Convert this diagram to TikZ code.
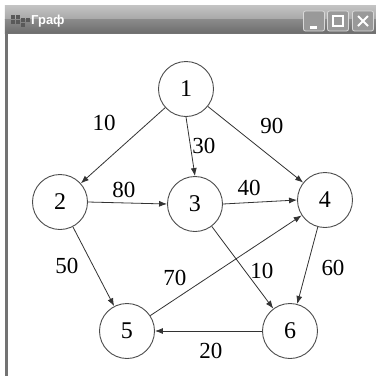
\documentclass[tikz,border=0pt]{standalone}
\usepackage{fontspec}
\setmainfont{Liberation Serif}
\newfontfamily\uifont{Liberation Sans}
\usetikzlibrary{arrows.meta}
\definecolor{barlight}{HTML}{C4C4C4}
\definecolor{barmid}{HTML}{A8A8A8}
\definecolor{bardark}{HTML}{6E6E6E}
\definecolor{edgecol}{HTML}{333333}
\tikzset{
  vertex/.style={circle, draw=black!70, line width=0.9pt, fill=white,
    minimum size=55pt, inner sep=0pt, font=\fontsize{24}{24}\selectfont},
  arc/.style={draw=edgecol, line width=0.8pt,
    -{Latex[length=8pt,width=6pt]}},
  wlabel/.style={font=\fontsize{23}{23}\selectfont, inner sep=0pt},
  winbtn/.style={draw=white!85!black, line width=0.8pt, fill=black!40,
    rounded corners=2pt, minimum width=21pt, minimum height=20pt, inner sep=0pt}
}
\begin{document}
\begin{tikzpicture}[x=1pt,y=-1pt]
  \useasboundingbox (0,0) rectangle (376,376);
  \fill[white] (0,0) rectangle (376,376);
  % window title bar
  \shade[top color=barlight, bottom color=barmid] (5,5) rectangle (376,19);
  \shade[top color=bardark!80, bottom color=bardark] (5,19) rectangle (376,33);
  \draw[black!55, line width=0.8pt] (5,33) -- (376,33);
  % left window frame
  \fill[black!55] (5,33) rectangle (8,376);
  % window icon
  \foreach \ix/\iy in {11/15, 16/15, 11/20, 16/20, 21/18, 21/23, 26/18}
    \fill[black!65] (\ix,\iy) rectangle ++(4,4);
  \node[anchor=west, text=white, inner sep=0pt,
        font=\uifont\fontsize{13}{13}\selectfont\bfseries] (title) at (31,21) {Граф};
  % caption buttons
  \node[winbtn] (bmin) at (314,21) {};
  \node[winbtn] (bmax) at (338,21) {};
  \node[winbtn] (bclose) at (363,21) {};
  \fill[white] ([xshift=-4pt,yshift=-5pt]bmin.center) rectangle ([xshift=3pt,yshift=-8pt]bmin.center);
  \draw[white, line width=2pt] ([xshift=-5pt,yshift=-5pt]bmax.center) rectangle ([xshift=5pt,yshift=5pt]bmax.center);
  \draw[white, line width=2pt] ([xshift=-5pt,yshift=-5pt]bclose.center) -- ([xshift=5pt,yshift=5pt]bclose.center)
                              ([xshift=-5pt,yshift=5pt]bclose.center) -- ([xshift=5pt,yshift=-5pt]bclose.center);
  % graph vertices
  \node[vertex] (n1) at (186,89) {1};
  \node[vertex] (n2) at (60,202) {2};
  \node[vertex] (n3) at (195,204) {3};
  \node[vertex] (n4) at (325,200) {4};
  \node[vertex] (n5) at (127,331) {5};
  \node[vertex] (n6) at (290,331) {6};
  % weighted arcs
  \draw[arc] (n1) -- (n2);
  \draw[arc] (n1.south) -- (n3.north);
  \draw[arc] (n1) -- (n4);
  \draw[arc] (n2.east) -- (n3.west);
  \draw[arc] (n3.east) -- (n4.west);
  \draw[arc] (n2) -- (n5);
  \draw[arc] (n5) -- (n4);
  \draw[arc] (n3) -- (n6);
  \draw[arc] (n4) -- (n6);
  \draw[arc] (n6.west) -- (n5.east);
  % weights
  \node[wlabel] (w12) at (104,123) {10};
  \node[wlabel] (w13) at (204,146) {30};
  \node[wlabel] (w14) at (272,126) {90};
  \node[wlabel] (w23) at (124,190) {80};
  \node[wlabel] (w34) at (249,188) {40};
  \node[wlabel] (w25) at (67,266) {50};
  \node[wlabel] (w54) at (175,278) {70};
  \node[wlabel] (w36) at (262,271) {10};
  \node[wlabel] (w46) at (333,268) {60};
  \node[wlabel] (w65) at (211,351) {20};
\end{tikzpicture}
\end{document}
